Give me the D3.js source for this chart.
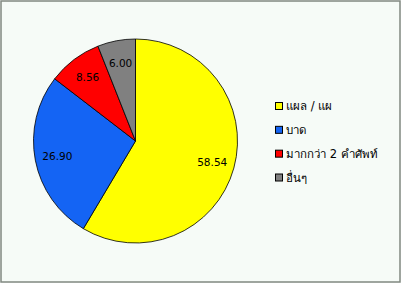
<!DOCTYPE html>
<html><head><meta charset="utf-8">
<script src="https://cdn.jsdelivr.net/npm/d3@7"></script>
<style>html,body{margin:0;padding:0;background:#fff;}svg{display:block;}</style>
</head><body>
<script>
const categories = ["แผล / แผ", "บาด", "มากกว่า 2 คำศัพท์", "อื่นๆ"];
const values = [58.54, 26.90, 8.56, 6.00];
const colors = ["#ffff00", "#1464f4", "#ff0000", "#808080"];

const W = 402, H = 284;
const svg = d3.select("body").append("svg").attr("width", W).attr("height", H);
svg.append("rect").attr("x", 1).attr("y", 1).attr("width", W - 3).attr("height", H - 3)
  .attr("fill", "#f6fbf7").attr("stroke", "#808880").attr("stroke-width", 1.5);

const cx = 135.5, cy = 141, r = 102;
const pie = d3.pie().sort(null).value(d => d)(values);
const arc = d3.arc().innerRadius(0).outerRadius(r);
const labelArc = d3.arc().innerRadius(r * 0.78).outerRadius(r * 0.78);
const g = svg.append("g").attr("transform", `translate(${cx},${cy})`);
g.selectAll("path").data(pie).join("path")
  .attr("d", arc).attr("fill", (d, i) => colors[i])
  .attr("stroke", "#000").attr("stroke-width", 0.8);
g.selectAll("text").data(pie).join("text")
  .attr("transform", d => `translate(${labelArc.centroid(d)})`)
  .attr("text-anchor", "middle").attr("dy", "0.35em")
  .attr("font-family", "DejaVu Sans, sans-serif").attr("font-size", 10.5)
  .attr("fill", "#000")
  .text(d => d.data.toFixed(2));

const leg = svg.append("g");
const ly = d3.scalePoint().domain(categories).range([106, 177.5]);
categories.forEach((c, i) => {
  const y = ly(c);
  leg.append("rect").attr("x", 275.5).attr("y", y - 3.5).attr("width", 7).attr("height", 7)
    .attr("fill", colors[i]).attr("stroke", "#000").attr("stroke-width", 1);
  leg.append("text").attr("x", 286).attr("y", y).attr("dy", "0.35em")
    .attr("font-family", "Tahoma, DejaVu Sans, Noto Sans, sans-serif").attr("font-size", 11.5)
    .attr("fill", "#000").text(c);
});
</script>
</body></html>
